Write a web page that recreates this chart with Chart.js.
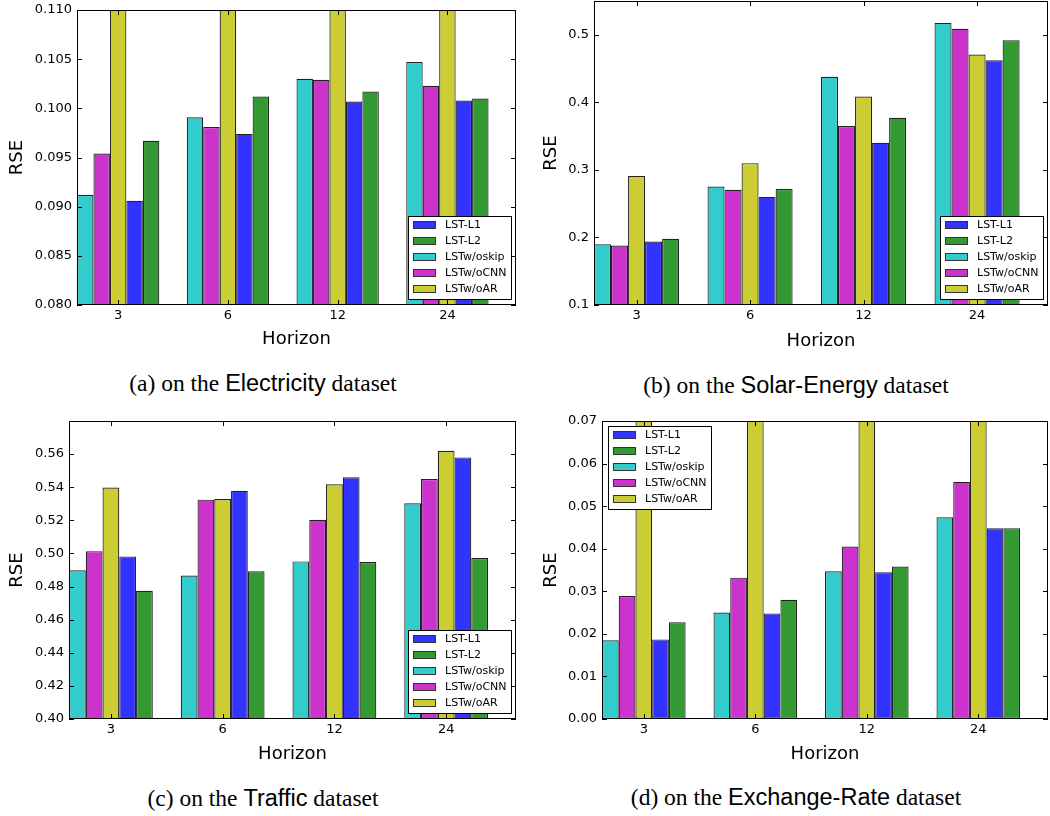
<!DOCTYPE html>
<html><head><meta charset="utf-8">
<script src="https://cdn.jsdelivr.net/npm/chart.js@4.4.0/dist/chart.umd.min.js"></script>
<style>
html,body{margin:0;padding:0;background:#fff;}
body{width:1050px;height:816px;position:relative;overflow:hidden;}
canvas{position:absolute;}
.cap{position:absolute;width:600px;text-align:center;line-height:0;white-space:nowrap;color:#000;font-size:23.5px;font-family:'Liberation Serif','Times New Roman',serif;}
.sans{font-family:'Liberation Sans',Arial,sans-serif;}
</style></head><body>
<canvas id="cA" width="525" height="370" style="left:0;top:0"></canvas>
<canvas id="cB" width="525" height="370" style="left:525px;top:0"></canvas>
<canvas id="cC" width="525" height="370" style="left:0;top:400px"></canvas>
<canvas id="cD" width="525" height="370" style="left:525px;top:400px"></canvas>
<div class="cap" style="left:-37px;top:382.6px">(a) on the <span class="sans">Electricity</span> dataset</div>
<div class="cap" style="left:496px;top:384.9px">(b) on the <span class="sans">Solar-Energy</span> dataset</div>
<div class="cap" style="left:-37px;top:797.6px">(c) on the <span class="sans">Traffic</span> dataset</div>
<div class="cap" style="left:496px;top:796.9px">(d) on the <span class="sans">Exchange-Rate</span> dataset</div>
<script>
// ---------- data ----------
const horizons = ['3', '6', '12', '24'];
const horizonIndex = [0, 1, 2, 3];
const seriesNames = ['LSTw/oskip', 'LSTw/oCNN', 'LSTw/oAR', 'LST-L1', 'LST-L2'];
const legendOrder = ['LST-L1', 'LST-L2', 'LSTw/oskip', 'LSTw/oCNN', 'LSTw/oAR'];

// Electricity (LSTw/oAR exceeds the axis range)
const elecSkip = [0.0912, 0.0991, 0.1030, 0.1047];
const elecCNN  = [0.0954, 0.0981, 0.1029, 0.1023];
const elecAR   = [0.1250, 0.1280, 0.1300, 0.1320];
const elecL1   = [0.0906, 0.0974, 0.1007, 0.1008];
const elecL2   = [0.0967, 0.1012, 0.1017, 0.1010];
const elecTicks = [0.080, 0.085, 0.090, 0.095, 0.100, 0.105, 0.110];

// Solar-Energy
const solarSkip = [0.190, 0.2755, 0.4377, 0.5176];
const solarCNN  = [0.188, 0.2706, 0.3648, 0.5088];
const solarAR   = [0.291, 0.3100, 0.4086, 0.4708];
const solarL1   = [0.194, 0.2600, 0.3400, 0.4624];
const solarL2   = [0.198, 0.2716, 0.3770, 0.4920];
const solarTicks = [0.1, 0.2, 0.3, 0.4, 0.5];

// Traffic
const trafSkip = [0.4898, 0.4867, 0.4952, 0.5303];
const trafCNN  = [0.5014, 0.5325, 0.5203, 0.5450];
const trafAR   = [0.5398, 0.5329, 0.5418, 0.5620];
const trafL1   = [0.4982, 0.5378, 0.5460, 0.5580];
const trafL2   = [0.4775, 0.4892, 0.4948, 0.4972];
const trafTicks = [0.40, 0.42, 0.44, 0.46, 0.48, 0.50, 0.52, 0.54, 0.56];

// Exchange-Rate (LSTw/oAR exceeds the axis range)
const exchSkip = [0.0185, 0.0250, 0.0347, 0.0474];
const exchCNN  = [0.0289, 0.0332, 0.0405, 0.0557];
const exchAR   = [0.0850, 0.0900, 0.0950, 0.1000];
const exchL1   = [0.0187, 0.0248, 0.0345, 0.0448];
const exchL2   = [0.0227, 0.0280, 0.0358, 0.0448];
const exchTicks = [0.00, 0.01, 0.02, 0.03, 0.04, 0.05, 0.06, 0.07];

// ---------- styles ----------
const seriesColors = {
  'LSTw/oskip': '#33cccc', 'LSTw/oCNN': '#cc33cc', 'LSTw/oAR': '#cccc33',
  'LST-L1': '#3333ff', 'LST-L2': '#339933'
};
Chart.defaults.font.family = '"DejaVu Sans", sans-serif';
Chart.defaults.color = '#000';

const frameTicks = {
  id: 'frameTicks',
  afterDatasetsDraw(chart) {
    const {ctx, chartArea: a, scales: {x, y}} = chart;
    ctx.save();
    ctx.strokeStyle = '#000'; ctx.lineWidth = 1;
    ctx.beginPath();
    y.ticks.forEach(t => {
      const p = Math.round(y.getPixelForValue(t.value)) + 0.5;
      ctx.moveTo(a.left, p); ctx.lineTo(a.left + 5, p);
      ctx.moveTo(a.right, p); ctx.lineTo(a.right - 5, p);
    });
    x.ticks.forEach(t => {
      const p = Math.round(x.getPixelForValue(t.value)) + 0.5;
      ctx.moveTo(p, a.bottom); ctx.lineTo(p, a.bottom - 5);
      ctx.moveTo(p, a.top); ctx.lineTo(p, a.top + 5);
    });
    ctx.stroke();
    ctx.strokeRect(a.left + 0.5, a.top + 0.5, a.right - a.left - 1, a.bottom - a.top - 1);
    ctx.restore();
  }
};

const boxLegend = {
  id: 'boxLegend',
  afterDraw(chart, args, opts) {
    const {ctx, chartArea: a} = chart;
    ctx.save();
    ctx.font = '11px "DejaVu Sans"';
    const items = legendOrder.map(n => chart.data.datasets.find(d => d.label === n));
    const tw = Math.max(...items.map(d => ctx.measureText(d.label).width));
    const w = Math.round(37 + tw + 4), h = 83;
    const x0 = opts.corner === 'upper left' ? Math.round(a.left + 6) : Math.round(a.right - 5 - w);
    const y0 = opts.corner === 'upper left' ? Math.round(a.top + 5) : Math.round(a.bottom - 6 - h);
    ctx.fillStyle = '#fff'; ctx.fillRect(x0, y0, w, h);
    ctx.strokeStyle = '#000'; ctx.lineWidth = 1;
    ctx.strokeRect(x0 + 0.5, y0 + 0.5, w, h);
    items.forEach((d, i) => {
      const cy = y0 + 9 + 16 * i;
      ctx.fillStyle = d.backgroundColor;
      ctx.fillRect(x0 + 5, Math.round(cy - 4), 23, 8);
      ctx.strokeStyle = '#333';
      ctx.strokeRect(x0 + 5.5, Math.round(cy - 4) + 0.5, 22, 7);
      ctx.fillStyle = '#000'; ctx.textBaseline = 'middle'; ctx.textAlign = 'left';
      ctx.fillText(d.label, x0 + 37, cy + 0.5);
    });
    ctx.restore();
  }
};

function buildChart(id, series, yTicks, yMin, yMax, decimals, g, corner) {
  const datasets = seriesNames.map((name, i) => ({
    label: name,
    data: horizonIndex.map((h, j) => ({x: h, y: series[i][j]})),
    backgroundColor: seriesColors[name],
    borderColor: '#222222',
    borderWidth: 1.2,
    borderSkipped: false,
    categoryPercentage: 0.75,
    barPercentage: 1.0,
    clip: 0
  }));
  const W = 525, H = 370, XH = 48;
  return new Chart(document.getElementById(id), {
    type: 'bar',
    data: {datasets},
    plugins: [frameTicks, boxLegend],
    options: {
      responsive: false,
      animation: false,
      layout: {padding: {left: 0, top: g.t, right: W - g.r, bottom: H - g.b - XH}},
      plugins: {
        legend: {display: false},
        tooltip: {enabled: false},
        boxLegend: {corner}
      },
      scales: {
        x: {
          type: 'linear', min: -0.375, max: 3.625, offset: false,
          grid: {display: false, drawTicks: false}, border: {display: false},
          afterBuildTicks: axis => { axis.ticks = horizonIndex.map(v => ({value: v})); },
          ticks: {callback: v => horizons[v], padding: 3, color: '#000', font: {size: 13}, autoSkip: false, maxRotation: 0},
          title: {display: true, text: 'Horizon', color: '#000', font: {size: 18}, padding: {top: 0, bottom: g.xtp}},
          afterFit: s => { s.height = XH; s.paddingLeft = 0; s.paddingRight = 0; }
        },
        y: {
          type: 'linear', min: yMin, max: yMax,
          grid: {display: false, drawTicks: false}, border: {display: false},
          afterBuildTicks: axis => { axis.ticks = yTicks.map(v => ({value: v})); },
          ticks: {callback: v => v.toFixed(decimals), padding: 5, color: '#000', font: {size: 13}, autoSkip: false},
          title: {display: true, text: 'RSE', color: '#000', font: {size: 18}, padding: {top: g.ytp, bottom: 0}},
          afterFit: s => { s.width = g.l; s.paddingTop = 0; s.paddingBottom = 0; }
        }
      }
    }
  });
}

buildChart('cA', [elecSkip, elecCNN, elecAR, elecL1, elecL2], elecTicks, 0.080, 0.110, 3,
  {l: 77, t: 10, r: 516, b: 305, ytp: 6.2, xtp: 3.2}, 'lower right');
buildChart('cB', [solarSkip, solarCNN, solarAR, solarL1, solarL2], solarTicks, 0.1, 0.55, 1,
  {l: 69, t: 1, r: 523, b: 305, ytp: 15.2, xtp: 1.2}, 'lower right');
buildChart('cC', [trafSkip, trafCNN, trafAR, trafL1, trafL2], trafTicks, 0.40, 0.58, 2,
  {l: 69, t: 21, r: 516, b: 319, ytp: 6.2, xtp: 1.9}, 'lower right');
buildChart('cD', [exchSkip, exchCNN, exchAR, exchL1, exchL2], exchTicks, 0.0, 0.07, 2,
  {l: 77, t: 21, r: 523, b: 319, ytp: 15.2, xtp: 1.9}, 'upper left');
</script>
</body></html>
